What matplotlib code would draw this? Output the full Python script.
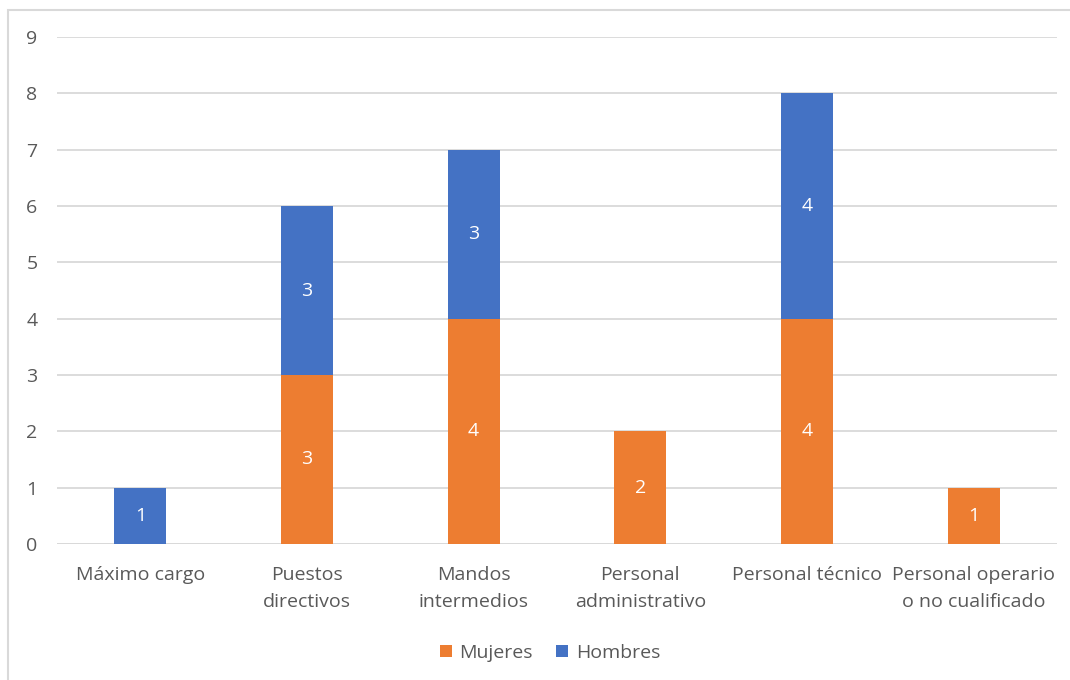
import matplotlib.pyplot as plt
from matplotlib.patches import Rectangle
import numpy as np

categories = ["Máximo cargo", "Puestos\ndirectivos", "Mandos\nintermedios",
              "Personal\nadministrativo", "Personal técnico",
              "Personal operario\no no cualificado"]
mujeres = [0, 3, 4, 2, 4, 1]
hombres = [1, 3, 3, 0, 4, 0]

ORANGE = "#ED7D31"
BLUE = "#4472C4"
TEXT = "#595959"
GRID = "#D9D9D9"
FS = 14

plt.rcParams['font.family'] = ['Open Sans', 'DejaVu Sans']

fig = plt.figure(figsize=(10.7, 6.8), dpi=100)
ax = fig.add_axes([57 / 1070, 1 - 544 / 680, 1000 / 1070, (544 - 37) / 680])

# border of the chart area
fig.patches.append(Rectangle((8 / 1070, -0.05), 1.1, 1 - 10 / 680 + 0.05,
                             transform=fig.transFigure, fill=False,
                             edgecolor=GRID, linewidth=1.5))

x = np.arange(len(categories))
w = 0.312
b1 = ax.bar(x, mujeres, w, color=ORANGE, label="Mujeres", zorder=3)
b2 = ax.bar(x, hombres, w, bottom=mujeres, color=BLUE, label="Hombres", zorder=3)

for bars in (b1, b2):
    for rect in bars:
        h = rect.get_height()
        if h > 0:
            ax.text(rect.get_x() + rect.get_width() / 2, rect.get_y() + h / 2,
                    f"{int(h)}", ha="center", va="center", color="white",
                    fontsize=FS, zorder=4)

ax.set_xlim(-0.5, len(categories) - 0.5)
ax.set_ylim(0, 9)
ax.set_yticks(range(10))
ax.set_xticks(x)
ax.set_xticklabels(categories, linespacing=1.6)
ax.tick_params(axis="both", length=0, labelsize=FS, labelcolor=TEXT)
ax.tick_params(axis="x", pad=16)
ax.tick_params(axis="y", pad=14)
ax.grid(axis="y", color=GRID, linewidth=1.3, zorder=0)
for s in ax.spines.values():
    s.set_visible(False)
ax.axhline(0, color=GRID, linewidth=1.3, zorder=1)

fig.legend(handles=[b1, b2], labels=["Mujeres", "Hombres"], loc="center",
           bbox_to_anchor=(550 / 1070, 1 - 653 / 680), ncol=2, frameon=False,
           fontsize=FS, labelcolor=TEXT, handlelength=0.6, handleheight=0.6,
           handletextpad=0.4, columnspacing=1.2)

fig.savefig("out.png", dpi=100)
